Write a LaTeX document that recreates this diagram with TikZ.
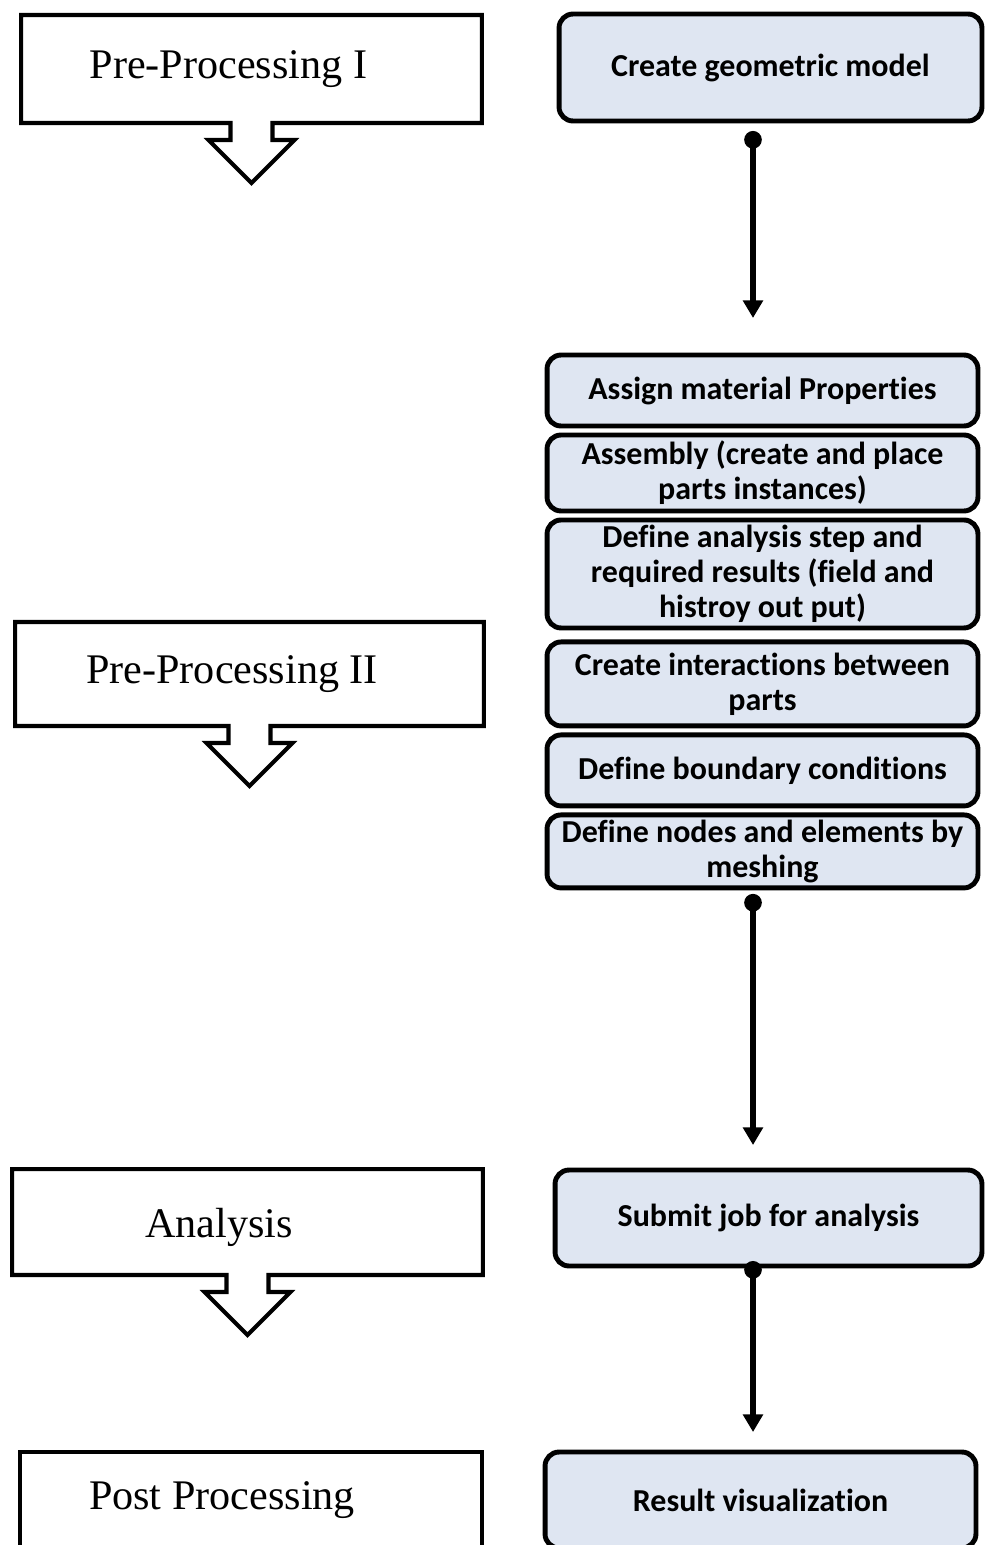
\documentclass[tikz,border=0pt]{standalone}
\usepackage{fontspec}
\setmainfont{Liberation Serif}
\newfontfamily\stepfont[Ligatures=NoCommon]{Carlito}
\usepackage{tikz}
\usetikzlibrary{arrows.meta,positioning,calc}
\definecolor{stepfill}{RGB}{223,230,242}

% outline of a stage box with its hollow arrow below
\newcommand{\stageoutline}[1]{%
  \draw[stageline] (#1.south west) -- (#1.north west) -- (#1.north east) -- (#1.south east)
    -- ($(#1.south)+(21,0)$) -- ++(0,17) -- ++(22,0) -- ($(#1.south)+(0,60)$)
    -- ($(#1.south)+(-43,17)$) -- ++(22,0) -- ++(0,-17) -- cycle;}

\begin{document}
\begin{tikzpicture}[x=0.02cm, y=-0.02cm,
    stage/.style={inner sep=0pt, outer sep=0pt},
    stagetext/.style={font=\fontsize{24}{28}\selectfont},
    stageline/.style={line width=2.3pt, line join=miter},
    stepbox/.style={draw, line width=2.8pt, rounded corners=0.28cm, fill=stepfill,
      minimum width=8.62cm, align=center, inner sep=0pt, outer sep=0pt,
      font=\stepfont\bfseries\fontsize{18.2}{20}\selectfont},
    flow/.style={line width=2.9pt, {Circle[length=10pt]}-{Triangle[length=10pt,width=11pt]}}]
  \useasboundingbox (0,0) rectangle (984,1545);

  % left column
  \node[stage, minimum width=9.22cm, minimum height=2.16cm,
    label={[stagetext, xshift=-0.46cm]center:Pre-Processing I}] (pre1) at (251.5,69) {};
  \node[stage, minimum width=9.38cm, minimum height=2.08cm,
    label={[stagetext, xshift=-0.35cm]center:Pre-Processing II}] (pre2) at (249.5,674) {};
  \node[stage, minimum width=9.42cm, minimum height=2.12cm,
    label={[stagetext, xshift=-0.57cm, yshift=-0.1cm]center:Analysis}] (ana) at (247.5,1222) {};
  \node[stage, draw, stageline, minimum width=9.24cm, minimum height=1.92cm,
    label={[stagetext, xshift=-0.58cm]center:Post Processing}] (post) at (251,1500) {};
  \stageoutline{pre1}
  \stageoutline{pre2}
  \stageoutline{ana}

  % right column
  \node[stepbox, minimum width=8.46cm, minimum height=2.14cm] (geo) at (770.5,67.5) {Create geometric model};
  \node[stepbox, minimum height=1.42cm] (mat) at (762.5,390.5) {Assign material Properties};
  \node[stepbox, minimum height=1.52cm, below=0.18cm of mat] (asm) {Assembly (create and place\\parts instances)};
  \node[stepbox, minimum height=2.16cm, below=0.18cm of asm] (stp) {Define analysis step and\\required results (field and\\histroy out put)};
  \node[stepbox, minimum height=1.68cm, below=0.28cm of stp] (int) {Create interactions between\\parts};
  \node[stepbox, minimum height=1.42cm, below=0.18cm of int] (bc) {Define boundary conditions};
  \node[stepbox, minimum height=1.46cm, below=0.18cm of bc] (mesh) {Define nodes and elements by\\meshing};
  \node[stepbox, minimum width=8.54cm, minimum height=1.92cm] (job) at (768.5,1218) {Submit job for analysis};
  \node[stepbox, minimum height=1.92cm] (res) at (760.5,1500) {Result visualization};

  \coordinate (spine) at (753,0);
  \draw[flow, shorten <=0.2cm, shorten >=0.74cm] (geo.south -| spine) -- (mat.north -| spine);
  \draw[flow, shorten <=0.12cm, shorten >=0.5cm] (mesh.south -| spine) -- (job.north -| spine);
  \draw[flow, shorten <=-0.1cm, shorten >=0.4cm] (job.south -| spine) -- (res.north -| spine);
\end{tikzpicture}
\end{document}
